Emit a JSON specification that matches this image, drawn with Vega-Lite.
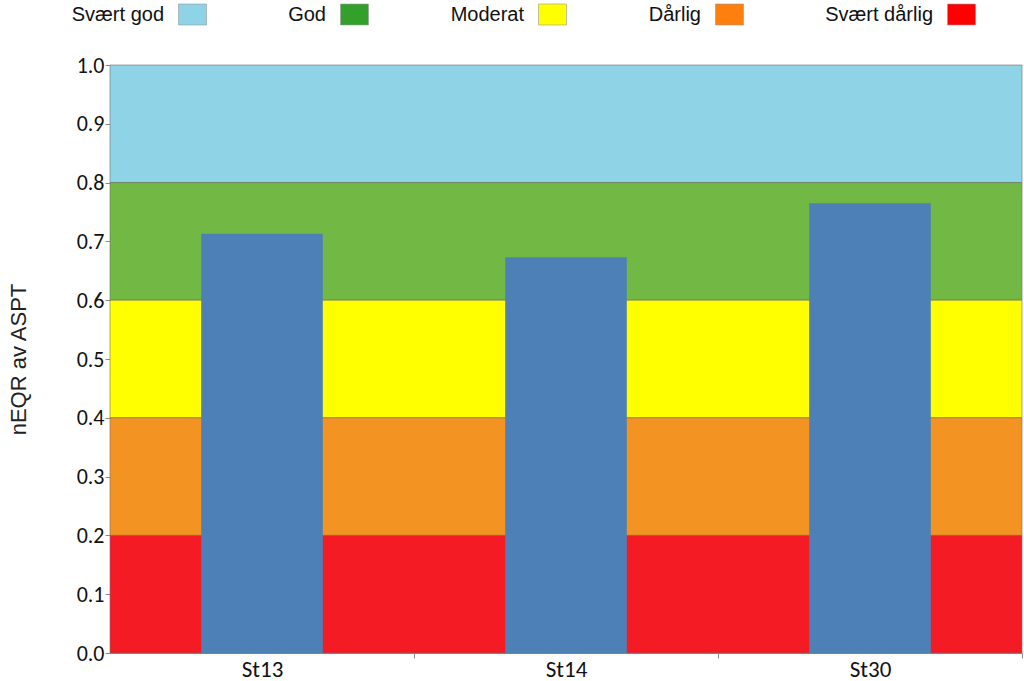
{
  "$schema": "https://vega.github.io/schema/vega-lite/v6.json",
  "width": 912,
  "height": 588,
  "autosize": {"type": "none"},
  "padding": {"left": 110, "top": 65, "right": 2, "bottom": 28},
  "background": "white",
  "config": {"view": {"stroke": null}},
  "datasets": {
    "bands": [
      {"klasse": "Svært god", "lo": 0.8, "hi": 1.0},
      {"klasse": "God", "lo": 0.6, "hi": 0.8},
      {"klasse": "Moderat", "lo": 0.4, "hi": 0.6},
      {"klasse": "Dårlig", "lo": 0.2, "hi": 0.4},
      {"klasse": "Svært dårlig", "lo": 0.0, "hi": 0.2}
    ],
    "stations": [
      {"stasjon": "St13", "neqr": 0.713},
      {"stasjon": "St14", "neqr": 0.673},
      {"stasjon": "St30", "neqr": 0.765}
    ]
  },
  "layer": [
    {
      "data": {"name": "bands"},
      "mark": {"type": "rect"},
      "encoding": {
        "y": {"field": "lo", "type": "quantitative", "scale": {"domain": [0, 1], "nice": false},
          "axis": {"title": "nEQR av ASPT", "format": ".1f", "values": [0,0.1,0.2,0.3,0.4,0.5,0.6,0.7,0.8,0.9,1.0],
            "grid": false, "domainColor": "#8a8a8a", "tickColor": "#8a8a8a", "tickSize": 5,
            "labelFont": "Carlito, Lato", "labelFontSize": 22, "labelColor": "#111", "labelPadding": 1,
            "titleFont": "Liberation Sans", "titleFontSize": 22, "titleFontWeight": "normal", "titleColor": "#222", "titlePadding": 46}},
        "y2": {"field": "hi"},
        "color": {"field": "klasse", "type": "nominal",
          "scale": {"domain": ["Svært god", "God", "Moderat", "Dårlig", "Svært dårlig"],
                    "range": ["#8fd3e6", "#33a02c", "#ffff00", "#ff7f0e", "#ff0000"]},
          "legend": {"title": null, "orient": "none", "legendX": 68, "legendY": -65, "direction": "horizontal",
            "columns": 5, "gridAlign": "none", "columnPadding": 80,
            "symbolType": "M-1,-0.75H1V0.75H-1Z", "symbolSize": 784, "symbolStrokeWidth": 0.6, "symbolStrokeColor": "#999",
            "labelFont": "Liberation Sans", "labelFontSize": 20, "labelColor": "#111", "labelAlign": "right", "labelOffset": -43,
            "labelLimit": 300}}
      }
    },
    {
      "data": {"name": "bands"},
      "mark": {"type": "rect", "stroke": "#6f6f6f", "strokeWidth": 0.6},
      "encoding": {
        "y": {"field": "lo", "type": "quantitative"},
        "y2": {"field": "hi"},
        "fill": {"field": "klasse", "type": "nominal", "legend": null,
          "scale": {"domain": ["Svært god", "God", "Moderat", "Dårlig", "Svært dårlig"],
                    "range": ["#8fd3e6", "#71b944", "#ffff00", "#f39321", "#f51b25"]}}
      }
    },
    {
      "data": {"name": "stations"},
      "mark": {"type": "bar", "color": "#4e80b8"},
      "encoding": {
        "x": {"field": "stasjon", "type": "nominal", "sort": null,
          "scale": {"paddingInner": 0.6, "paddingOuter": 0.3},
          "axis": {"title": null, "labelAngle": 0, "domainColor": "#8a8a8a", "tickColor": "#8a8a8a", "tickSize": 5,
            "bandPosition": 1, "tickOffset": 91, "labelOffset": -91,
            "labelFont": "Carlito, Lato", "labelFontSize": 23, "labelColor": "#111", "labelPadding": 0}},
        "y": {"field": "neqr", "type": "quantitative"}
      }
    }
  ]
}
